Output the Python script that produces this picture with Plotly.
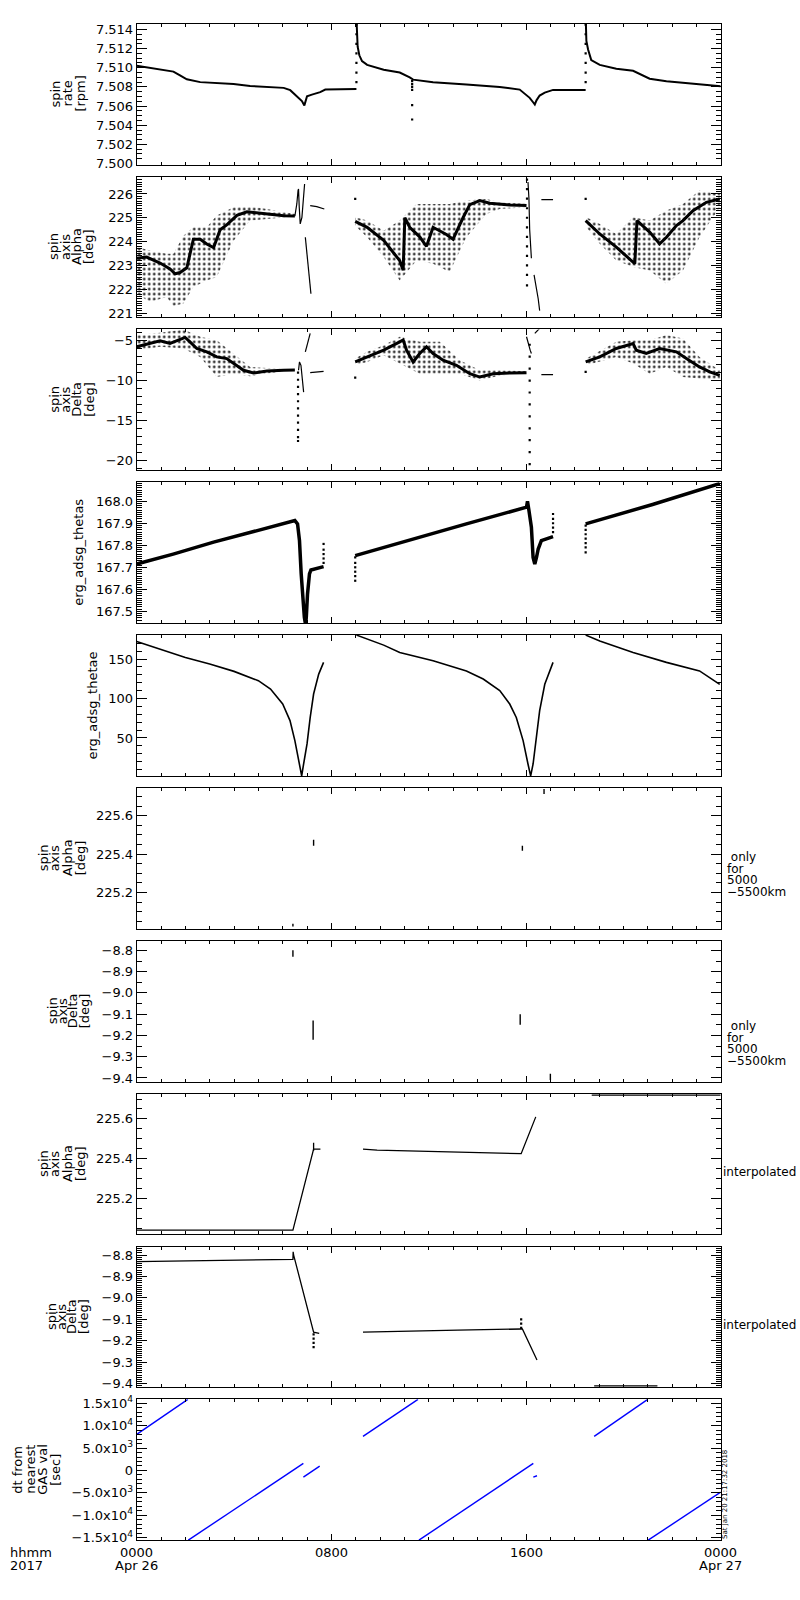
import plotly.graph_objects as go

# ---------------- data (hours after 2017-04-26 00:00 UT) ----------------
# Panel 1: spin rate [rpm]
rate_h = [0, 0.55, 1.0, 1.51, 1.78, 2.06, 2.61, 3.29, 3.98, 4.66, 5.35, 6.04, 6.31, 6.58, 6.79, 6.89, 7.0, 7.2, 7.54, 7.75, 9.03, None,
          9.04, 9.05, 9.08, 9.15, 9.26, 9.47, 10.15, 10.81, 11.09, 11.22, 11.36, 12.18, 13.55, 14.92, 15.74, 16.15, 16.29, 16.36, 16.43,
          16.56, 16.77, 17.11, 18.45, None,
          18.46, 18.48, 18.55, 18.68, 19.03, 19.71, 20.40, 20.67, 21.08, 21.77, 23.13, 23.96, 24.0]
rate_v = [7.5102, 7.5100, 7.5098, 7.5096, 7.5092, 7.5088, 7.5085, 7.5084, 7.5083, 7.5081, 7.5080, 7.5079, 7.50766, 7.50703,
          7.50652, 7.50607, 7.50703, 7.5072, 7.50745, 7.50772, 7.50779, None,
          7.5146, 7.5130, 7.5122, 7.5113, 7.5107, 7.5103, 7.5098, 7.5095, 7.5092, 7.5090, 7.50876, 7.5085, 7.50824, 7.5080, 7.50772,
          7.50686, 7.5064, 7.50617, 7.5066, 7.5071, 7.5074, 7.50769, 7.50769, None,
          7.5146, 7.5128, 7.5119, 7.5108, 7.5103, 7.5099, 7.50969, 7.50938, 7.50886, 7.50859, 7.50824, 7.50807, 7.50807]
rate_dot_h = [9.03] * 7 + [11.32] * 6 + [18.45] * 7
rate_dot_v = [7.5085, 7.5095, 7.5105, 7.5115, 7.5125, 7.5135, 7.5145,
              7.5086, 7.5083, 7.5080, 7.5077, 7.5061, 7.5046,
              7.5085, 7.5095, 7.5105, 7.5115, 7.5125, 7.5135, 7.5145]

# Panel 2: spin axis Alpha [deg]  (dense band + scattered cloud envelope)
alpha_band_h = [0, 0.41, 0.96, 1.37, 1.58, 1.78, 2.06, 2.33, 2.61, 2.88, 3.16, 3.43, 3.70, 3.98, 4.12, 4.53, 5.35, 6.04, 6.50, None,
                8.98, 9.26, 9.47, 10.15, 10.81, 10.95, 11.02, 11.22, 11.63, 11.91, 12.18, 12.73, 13.00, 13.41, 13.69, 14.10, 14.51,
                15.33, 16.02, None,
                18.45, 19.03, 19.71, 20.40, 20.47, 20.56, 21.08, 21.49, 21.77, 22.18, 22.45, 22.86, 23.41, 23.96]
alpha_band_v = [223.3, 223.35, 223.1, 222.85, 222.65, 222.7, 222.9, 224.1, 224.1, 223.9, 223.75, 224.5, 224.7, 224.95, 225.1,
                225.25, 225.15, 225.08, 225.07, None,
                224.85, 224.7, 224.6, 224.05, 223.2, 222.8, 225.0, 224.6, 224.2, 223.8, 224.6, 224.3, 224.1, 225.0, 225.55, 225.72,
                225.61, 225.54, 225.51, None,
                224.88, 224.32, 223.77, 223.14, 223.07, 224.88, 224.40, 223.91, 224.18, 224.67, 224.88, 225.30, 225.65, 225.79]
alpha_cloud = [
    ([0, 0.55, 1.23, 1.51, 1.92, 2.33, 2.88, 3.29, 3.98, 4.66, 5.35, 6.04, 6.50],
     [223.77, 223.63, 223.49, 223.49, 224.25, 224.60, 224.60, 225.09, 225.44, 225.47, 225.37, 225.23, 225.16],
     [221.81, 221.46, 221.67, 221.3, 221.4, 222.09, 222.37, 222.51, 224.04, 224.88, 224.95, 225.02, 225.05]),
    ([8.98, 9.47, 10.15, 10.81, 11.50, 12.18, 12.86, 13.55, 14.37, 14.92, 16.02],
     [225.02, 224.88, 224.46, 224.88, 225.58, 225.58, 225.58, 225.72, 225.79, 225.65, 225.58],
     [224.67, 224.18, 223.35, 222.37, 223.21, 223.07, 222.72, 224.18, 225.16, 225.37, 225.44]),
    ([18.48, 19.03, 19.71, 20.40, 21.08, 21.77, 22.45, 23.13, 23.96],
     [225.02, 224.74, 224.32, 225.02, 224.88, 225.30, 225.58, 226.14, 226.0],
     [224.60, 223.91, 223.21, 222.93, 222.79, 222.23, 222.79, 224.18, 225.44]),
]
alpha_thin_h = [6.50, 6.58, 6.63, 6.65, 6.68, 6.72, 6.79, 6.86, 6.90, None, 6.93, 7.0, 7.06, 7.13, 7.16, None,
                7.13, 7.40, 7.71, None, 16.08, 16.12, 16.15, 16.19, 16.22, None, 16.33, 16.40, 16.50, 16.56, None,
                16.63, 17.11]
alpha_thin_v = [225.07, 225.58, 226.14, 226.21, 225.44, 224.74, 225.02, 225.86, 226.42, None, 224.18, 223.49, 222.79,
                222.09, 221.81, None, 225.51, 225.47, 225.37, None, 226.5, 225.8, 224.5, 223.5, 223.3, None,
                222.6, 222.2, 221.6, 221.1, None, 225.76, 225.76]
alpha_dot_h = [8.98, 18.45] + [16.04] * 12
alpha_dot_v = [225.79, 225.79, 226.6, 226.2, 225.8, 225.4, 225.0, 224.6, 224.2, 223.8, 223.4, 223.0, 222.6, 222.16]

# Panel 3: spin axis Delta [deg]
delta_band_h = [0, 0.55, 0.96, 1.37, 1.65, 1.99, 2.19, 2.47, 2.88, 3.29, 3.70, 3.98, 4.39, 4.80, 5.35, 6.04, 6.50, None,
                8.98, 9.47, 10.15, 10.81, 10.95, 11.09, 11.36, 11.63, 11.91, 12.18, 12.59, 13.14, 13.69, 14.10, 14.65, 15.33,
                16.02, None,
                18.45, 19.03, 19.71, 20.26, 20.40, 20.53, 20.94, 21.49, 21.77, 22.18, 22.59, 23.13, 23.55, 23.96]
delta_band_v = [-5.76, -5.34, -5.0, -5.34, -5.0, -4.58, -5.13, -5.97, -6.39, -7.03, -7.24, -7.87, -8.71, -9.05, -8.80, -8.71,
                -8.67, None,
                -7.66, -7.03, -6.18, -5.13, -4.90, -6.18, -7.66, -6.60, -5.76, -6.60, -7.45, -8.08, -9.14, -9.56, -9.14, -9.05,
                -9.01, None,
                -7.66, -7.03, -5.97, -5.42, -5.34, -6.18, -6.60, -5.97, -6.18, -6.39, -7.24, -8.29, -8.92, -9.35]
delta_cloud = [
    ([0, 0.96, 1.92, 2.61, 3.29, 3.98, 4.66, 5.35, 6.04],
     [-4.28, -3.99, -3.57, -4.49, -4.92, -6.60, -8.29, -8.42, -8.55],
     [-6.18, -5.76, -5.97, -7.03, -9.56, -9.14, -9.47, -9.14, -8.80]),
    ([8.98, 9.47, 10.15, 10.81, 11.63, 12.46, 13.28, 14.10, 14.92, 16.02],
     [-7.24, -6.39, -5.55, -4.49, -5.13, -5.13, -7.45, -8.71, -8.71, -8.84],
     [-8.08, -7.66, -6.81, -7.87, -9.14, -9.14, -9.14, -9.98, -9.35, -9.14]),
    ([18.48, 19.71, 20.40, 21.08, 21.77, 22.45, 23.13, 23.96],
     [-7.24, -5.13, -4.92, -4.92, -4.28, -4.70, -7.03, -8.71],
     [-8.08, -7.03, -7.87, -9.14, -8.29, -9.56, -9.77, -9.98]),
]
delta_thin_h = [6.65, 6.69, 6.75, 6.79, 6.86, None, 6.93, 7.06, 7.13, None, 7.13, 7.68, None,
                16.02, 16.08, 16.17, 16.22, None, 16.36, 16.56, None, 16.63, 17.11]
delta_thin_v = [-8.71, -7.66, -8.08, -9.56, -11.46, None, -6.39, -4.92, -4.07, None, -9.01, -8.84, None,
                -4.49, -5.34, -6.18, -6.60, None, -4.07, -3.44, None, -9.26, -9.26]
delta_dot_h = [8.98, 18.45] + [6.63] * 11 + [16.15] * 11
delta_dot_v = [-9.64, -8.92,
               -9.0, -9.9, -10.8, -11.7, -12.6, -13.5, -14.4, -15.3, -16.2, -17.1, -17.6,
               -5.5, -7.0, -8.5, -10.0, -11.5, -13.0, -14.5, -16.0, -17.5, -19.0, -20.5]

# Panel 4: erg_adsg_thetas
thetas_h = [0, 1.5, 3.16, 4.8, 6.50, 6.61, 6.69, 6.76, 6.83, 6.89, 6.94, 6.97, 7.02, 7.10, 7.16, 7.68, None,
            8.98, 10.84, 13.55, 16.02, 16.06, 16.12, 16.22, 16.29, 16.33, 16.36, 16.43, 16.50, 16.63, 17.11, None,
            18.45, 21.2, 23.96]
thetas_v = [167.715, 167.76, 167.814, 167.863, 167.912, 167.897, 167.821, 167.670, 167.548, 167.473, 167.44, 167.473,
            167.579, 167.670, 167.688, 167.703, None,
            167.753, 167.813, 167.897, 167.973, 168.0, 167.958, 167.882, 167.745, 167.730, 167.715, 167.745, 167.783,
            167.821, 167.839, None,
            167.897, 167.985, 168.08]
thetas_dot_h = [7.68] * 5 + [8.98] * 6 + [17.11] * 5 + [18.45] * 7
thetas_dot_v = [167.72, 167.74, 167.76, 167.78, 167.806,
                167.639, 167.66, 167.68, 167.70, 167.72, 167.745,
                167.86, 167.88, 167.90, 167.92, 167.942,
                167.768, 167.79, 167.81, 167.83, 167.85, 167.87, 167.889]

# Panel 5: erg_adsg_thetae
thetae_h = [0, 1, 2, 3, 4, 5, 5.5, 6, 6.3, 6.5, 6.7, 6.78, 6.86, 7.0, 7.13, 7.27, 7.48, 7.68, None,
            9.03, 9.47, 10.15, 10.81, 12.18, 13.55, 14.24, 14.92, 15.33, 15.6, 15.88, 16.08, 16.19, 16.29, 16.43, 16.56,
            16.77, 17.11, None,
            18.45, 19.03, 20.40, 21.77, 23.13, 23.96]
thetae_v = [172.4, 162.7, 152.1, 143.7, 134.4, 122.6, 112, 93, 72, 46.6, 17, 1.9, 17, 42.4, 76, 105.7, 131, 145.8, None,
            180.4, 175.3, 167.7, 158.4, 148, 135, 124.7, 110, 93, 76, 46.6, 17, 1.9, 17, 55, 84.6, 118, 145.8, None,
            180.4, 173, 158.4, 145.8, 135, 118]

# Panel 6: spin axis Alpha only for 5000-5500 km
alpha_r_h = [6.42, 6.42, None, 7.27, 7.27, None, 15.85, 15.85, None, 16.74, 16.74]
alpha_r_v = [225.024, 225.038, None, 225.443, 225.475, None, 225.417, 225.443, None, 225.713, 225.739]

# Panel 7: spin axis Delta only for 5000-5500 km
delta_r_h = [6.42, 6.42, None, 7.25, 7.25, None, 15.76, 15.76, None, 17.0, 17.0]
delta_r_v = [-8.80, -8.83, None, -9.13, -9.22, None, -9.10, -9.15, None, -9.38, -9.41]

# Panel 8: spin axis Alpha interpolated
alpha_i_h = [0, 6.42, 7.27, 7.55, None, 9.3, 9.88, 15.8, 16.4, None, 18.7, 24.0, None, 7.27, 7.27]
alpha_i_v = [225.04, 225.04, 225.448, 225.448, None, 225.448, 225.443, 225.425, 225.61, None, 225.72, 225.72, None,
             225.44, 225.48]

# Panel 9: spin axis Delta interpolated
delta_i_h = [0, 1.0, 2.9, 4.8, 6.42, 6.43, 6.45, 7.27, 7.5, None, 9.3, 10.9, 13.2, 15.8, 15.85, 16.45, None, 18.8, 21.4]
delta_i_v = [-8.831, -8.829, -8.826, -8.822, -8.820, -8.785, -8.80, -9.16, -9.165, None,
             -9.16, -9.155, -9.15, -9.145, -9.145, -9.29, None, -9.41, -9.41]
delta_i_dot_h = [7.27] * 4 + [15.8] * 3
delta_i_dot_v = [-9.17, -9.19, -9.21, -9.23, -9.10, -9.12, -9.14]

# Panel 10: dt from nearest GAS val [sec]
dt_h = [0, 2.1, None, 2.12, 6.85, None, 6.85, 7.52, None, 9.3, 11.56, None, 11.6, 16.3, None, 16.3, 16.45, None,
        18.8, 21.0, None, 21.02, 24.0]
dt_v = [8070, 15900, None, -15600, 1570, None, -1500, 960, None, 7620, 15900, None, -15600, 1570, None, -1500, -1200,
        None, 7620, 15900, None, -15600, -4870]

# axis settings per panel: range, major ticks, labels, minor step
y_ranges = [[7.4999, 7.5146], [220.82, 226.73], [-21.27, -3.57], [167.447, 168.086], [1.9, 180.4],
            [225.012, 225.744], [-9.417, -8.755], [225.018, 225.727], [-9.417, -8.76], [-15600, 15900]]
y_tickvals = [[7.500, 7.502, 7.504, 7.506, 7.508, 7.510, 7.512, 7.514], [221, 222, 223, 224, 225, 226],
              [-20, -15, -10, -5], [167.5, 167.6, 167.7, 167.8, 167.9, 168.0], [50, 100, 150],
              [225.2, 225.4, 225.6], [-9.4, -9.3, -9.2, -9.1, -9.0, -8.9, -8.8], [225.2, 225.4, 225.6],
              [-9.4, -9.3, -9.2, -9.1, -9.0, -8.9, -8.8], [-15000, -10000, -5000, 0, 5000, 10000, 15000]]
y_ticktext = [["7.500", "7.502", "7.504", "7.506", "7.508", "7.510", "7.512", "7.514"],
              ["221", "222", "223", "224", "225", "226"],
              ["\u221220", "\u221215", "\u221210", "\u22125"],
              ["167.5", "167.6", "167.7", "167.8", "167.9", "168.0"],
              ["50", "100", "150"],
              ["225.2", "225.4", "225.6"],
              ["\u22129.4", "\u22129.3", "\u22129.2", "\u22129.1", "\u22129.0", "\u22128.9", "\u22128.8"],
              ["225.2", "225.4", "225.6"],
              ["\u22129.4", "\u22129.3", "\u22129.2", "\u22129.1", "\u22129.0", "\u22128.9", "\u22128.8"],
              ["\u22121.5x10<sup>4</sup>", "\u22121.0x10<sup>4</sup>", "\u22125.0x10<sup>3</sup>", "0",
               "5.0x10<sup>3</sup>", "1.0x10<sup>4</sup>", "1.5x10<sup>4</sup>"]]
y_minor = [0.0005, 0.1, 1, 0.01, 10, 0.05, 0.05, 0.05, 0.01, 1000]

y_titles = [["spin", "rate", "[rpm]"], ["spin", "axis", "Alpha", "[deg]"], ["spin", "axis", "Delta", "[deg]"],
            ["erg_adsg_thetas"], ["erg_adsg_thetae"], ["spin", "axis", "Alpha", "[deg]"],
            ["spin", "axis", "Delta", "[deg]"], ["spin", "axis", "Alpha", "[deg]"], ["spin", "axis", "Delta", "[deg]"],
            ["dt from", "nearest", "GAS val", "[sec]"]]
y_title_x = [[55.5, 67.5, 80.5], [54, 66, 77, 89], [55, 66, 77, 90], [79], [92], [43, 54, 67, 80],
             [52, 62, 72, 84], [43, 54, 67, 80], [52, 62, 72, 84], [18, 31, 43, 56]]

x_tickvals = [0, 8, 16, 24]
x_ticklines = [["0000", "Apr 26"], ["0800"], ["1600"], ["0000", "Apr 27"]]
right_notes = [None, None, None, None, None,
               [" only", "for", "5000", "\u22125500km"], [" only", "for", "5000", "\u22125500km"],
               ["interpolated"], ["interpolated"], None]
note_shift = [0, 0, 0, 0, 0, 0, 16, 0, 0, 0]
stamp = "Sat Jan 20 21:17:32 2018"

# ---------------- figure ----------------
W, H = 800, 1600
XL, XR = 136.7, 720.7
TOP0, STEP, PH = 23.7, 152.85, 140.8
FONT = "DejaVu Sans"

fig = go.Figure()
layout = dict(width=W, height=H, margin=dict(l=0, r=0, t=0, b=0), paper_bgcolor="white", plot_bgcolor="white",
              showlegend=False, font=dict(family=FONT, size=13, color="black"))


def ax(i):
    return ("x" if i == 0 else f"x{i+1}"), ("y" if i == 0 else f"y{i+1}")


def line(i, h, v, width=1.4, color="black"):
    xa, ya = ax(i)
    fig.add_trace(go.Scatter(x=h, y=v, xaxis=xa, yaxis=ya, mode="lines", connectgaps=False,
                             line=dict(color=color, width=width), hoverinfo="skip"))


def dots(i, h, v, size=2.2):
    xa, ya = ax(i)
    fig.add_trace(go.Scatter(x=h, y=v, xaxis=xa, yaxis=ya, mode="markers",
                             marker=dict(color="black", size=size, symbol="square", line=dict(width=0)),
                             hoverinfo="skip"))


def cloud(i, h, up, lo):
    xa, ya = ax(i)
    fig.add_trace(go.Scatter(x=list(h) + list(h)[::-1], y=list(up) + list(lo)[::-1], xaxis=xa, yaxis=ya,
                             mode="lines", fill="toself", line=dict(width=0, color="rgba(0,0,0,0)"),
                             fillcolor="rgba(0,0,0,0)",
                             fillpattern=dict(shape=".", size=5, solidity=0.18, fgcolor="black",
                                              bgcolor="rgba(0,0,0,0)", fillmode="replace"),
                             hoverinfo="skip"))


line(0, rate_h, rate_v, 2.0)
dots(0, rate_dot_h, rate_dot_v)
for c in alpha_cloud:
    cloud(1, *c)
line(1, alpha_band_h, alpha_band_v, 3.0)
line(1, alpha_thin_h, alpha_thin_v, 1.2)
dots(1, alpha_dot_h, alpha_dot_v)
for c in delta_cloud:
    cloud(2, *c)
line(2, delta_band_h, delta_band_v, 3.0)
line(2, delta_thin_h, delta_thin_v, 1.2)
dots(2, delta_dot_h, delta_dot_v)
line(3, thetas_h, thetas_v, 3.5)
dots(3, thetas_dot_h, thetas_dot_v)
line(4, thetae_h, thetae_v, 1.6)
line(5, alpha_r_h, alpha_r_v, 1.4)
line(6, delta_r_h, delta_r_v, 1.4)
line(7, alpha_i_h, alpha_i_v, 1.3)
line(8, delta_i_h, delta_i_v, 1.3)
dots(8, delta_i_dot_h, delta_i_dot_v)
line(9, dt_h, dt_v, 1.4, color="#0000ff")

annotations = []
for i in range(10):
    top = TOP0 + STEP * i
    bot = top + PH
    xa, ya = ax(i)
    xkey = "xaxis" if i == 0 else f"xaxis{i+1}"
    ykey = "yaxis" if i == 0 else f"yaxis{i+1}"
    layout[xkey] = dict(domain=[XL / W, XR / W], anchor=ya, range=[0, 24], tickvals=x_tickvals,
                        showticklabels=False, ticks="inside", ticklen=6, tickwidth=1, tickcolor="black",
                        mirror="allticks", showline=True, linecolor="black", linewidth=1, showgrid=False,
                        zeroline=False, automargin=False,
                        minor=dict(dtick=1, tick0=0, ticks="inside", ticklen=3, tickcolor="black", showgrid=False))
    layout[ykey] = dict(domain=[1 - bot / H, 1 - top / H], anchor=xa, range=y_ranges[i], tickvals=y_tickvals[i],
                        ticktext=y_ticktext[i], ticks="inside", ticklen=10, tickwidth=1, tickcolor="black",
                        mirror="allticks", showline=True, linecolor="black", linewidth=1, showgrid=False,
                        zeroline=False, automargin=False, tickfont=dict(family=FONT, size=13, color="black"),
                        minor=dict(dtick=y_minor[i], tick0=0, ticks="inside", ticklen=5, tickcolor="black",
                                   showgrid=False))
    cy = 1 - (top + PH / 2) / H
    for txt, px in zip(y_titles[i], y_title_x[i]):
        annotations.append(dict(text=txt, x=px / W, y=cy, xref="paper", yref="paper", textangle=-90,
                                showarrow=False, xanchor="center", yanchor="middle",
                                font=dict(family=FONT, size=13, color="black")))
    notes = right_notes[i]
    if notes:
        start = (top + PH / 2 - 1 if len(notes) > 1 else top + PH / 2 + 8) + note_shift[i]
        for k, txt in enumerate(notes):
            annotations.append(dict(text=txt, x=(725 if len(notes) > 1 else 721) / W, y=1 - (start + 11.5 * k) / H,
                                    xref="paper", yref="paper", showarrow=False, xanchor="left", yanchor="middle",
                                    font=dict(family=FONT, size=12, color="black")))

# bottom time labels
xbot = ax(9)[0]
for tv, lines_ in zip(x_tickvals, x_ticklines):
    for k, txt in enumerate(lines_):
        annotations.append(dict(text=txt, x=tv, y=1 - (1552 + 13 * k) / H, xref=xbot, yref="paper",
                                showarrow=False, xanchor="center", yanchor="middle",
                                font=dict(family=FONT, size=13, color="black")))
for k, txt in enumerate(["hhmm", "2017"]):
    annotations.append(dict(text=txt, x=8 / W, y=1 - (1552 + 13 * k) / H, xref="paper", yref="paper",
                            showarrow=False, xanchor="left", yanchor="middle",
                            font=dict(family=FONT, size=13, color="black")))
annotations.append(dict(text=stamp, x=724.5 / W, y=1 - 1494.5 / H, xref="paper", yref="paper", textangle=-90,
                        showarrow=False, xanchor="center", yanchor="middle",
                        font=dict(family=FONT, size=7, color="black")))
layout["annotations"] = annotations
fig.update_layout(**layout)
fig.write_html("out.html", config={"displayModeBar": False, "staticPlot": True},
               post_script="document.body.style.margin='0px';document.body.style.overflow='hidden';")
